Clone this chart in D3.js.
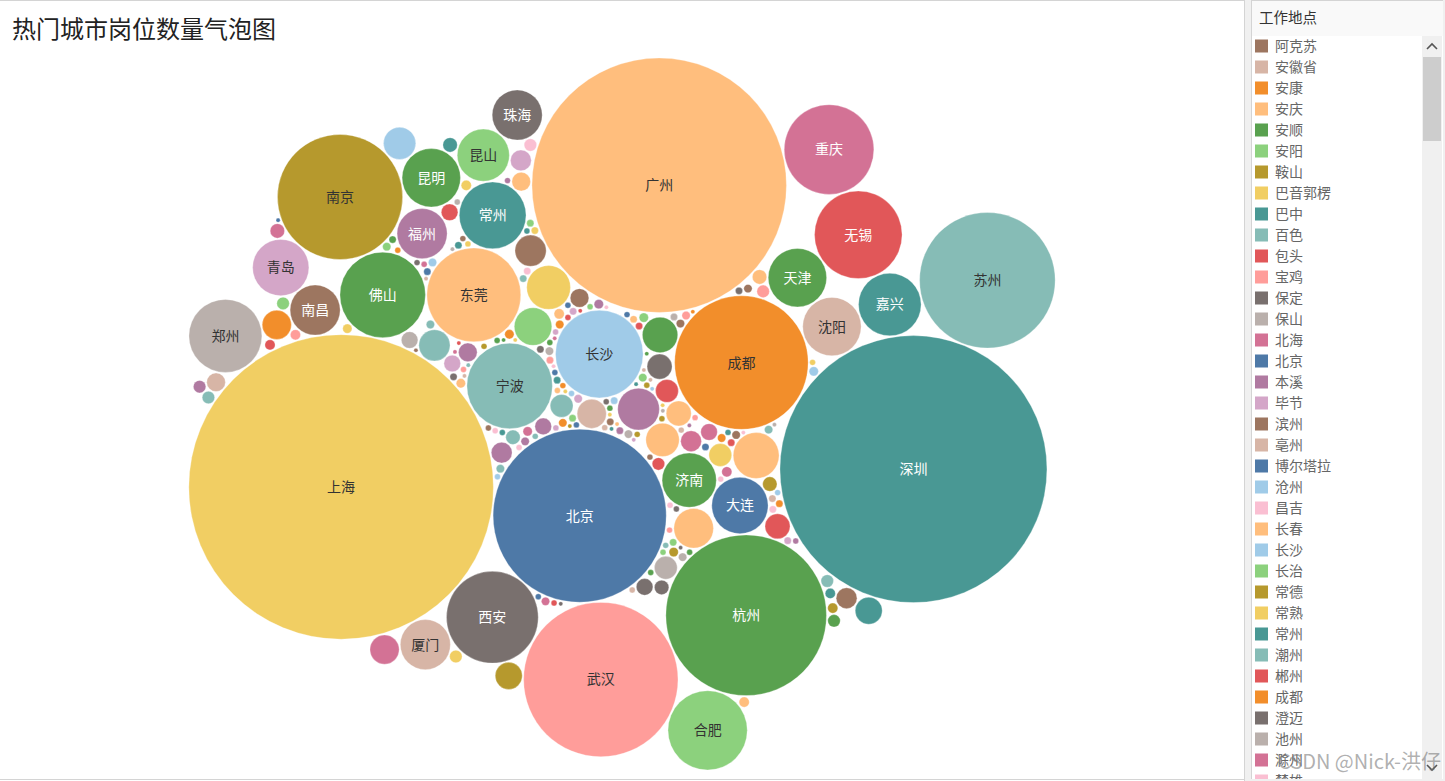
<!DOCTYPE html>
<html>
<head>
<meta charset="utf-8">
<script src="https://cdn.jsdelivr.net/npm/d3@7"></script>
<style>
  body { margin: 0; background: #fff; }
  svg { display: block; font-family: "Noto Sans CJK SC", "Noto Sans", sans-serif; }
</style>
</head>
<body>
<svg id="canvas"></svg>
<script>
const WIDTH = 1445;
const HEIGHT = 781;

// chart area for the bubbles
const PLOT = { x: 155, y: 58, w: 934, h: 712 };

const TITLE = "热门城市岗位数量气泡图";
const LEGEND_TITLE = "工作地点";

// job counts per city, listed in source order (10 per line)
const cities = [
  "温州", "达州", "大理", "绍兴", "大庆", "丹东", "德阳", "台州", "德州", "东营",
  "鄂尔多斯", "鄂州", "长沙", "恩施", "扬州", "防城港", "抚州", "阜阳", "广安", "洛阳",
  "广元", "贵港", "邯郸", "江门", "汉中", "衡水", "菏泽", "河源", "安庆", "鹤壁",
  "怀化", "淮安", "淮北", "南宁", "淮南", "黄冈", "黄山", "包头", "黄石", "吉安",
  "吉林", "佳木斯", "焦作", "宜昌", "揭阳", "锦州", "晋城", "晋中", "荆门", "荆州",
  "贵阳", "景德镇", "九江", "酒泉", "开封", "克拉玛依", "喀什", "芜湖", "拉萨", "乐山",
  "丽水", "连云港", "聊城", "六安", "襄阳", "龙岩", "娄底", "泸州", "漯河", "马鞍山",
  "茂名", "眉山", "南通", "梅州", "牡丹江", "南充", "南阳", "内江", "宁德", "盘锦",
  "攀枝花", "株洲", "平顶山", "莆田", "濮阳", "齐齐哈尔", "黔东南", "钦州", "秦皇岛", "清远",
  "衢州", "石家庄", "日照", "三明", "汕尾", "商丘", "上饶", "韶关", "邵阳", "十堰",
  "宿迁", "宿州", "随州", "临沂", "遂宁", "泰安", "铁岭", "铜陵", "渭南", "梧州",
  "太原", "武威", "咸宁", "咸阳", "湘潭", "济南", "新乡", "淄博", "大连", "邢台",
  "许昌", "北京", "延安", "阳江", "宜宾", "常州", "杭州", "鹰潭", "营口", "永州",
  "福州", "榆林", "玉林", "云浮", "运城", "佛山", "张家口", "舟山", "阿克苏", "安徽省",
  "惠州", "安康", "宣城", "安阳", "鞍山", "巴音郭楞", "巴中", "百色", "南昌", "保山",
  "北海", "本溪", "信阳", "盐城", "滨州", "合肥", "南京", "沧州", "昌吉", "长治",
  "益阳", "潮州", "郴州", "澄迈", "昆明", "滁州", "楚雄", "中山", "保定", "青岛",
  "常熟", "宁波", "昆山", "毕节", "烟台", "绵阳", "亳州", "枣庄", "嘉兴", "西安",
  "宜春", "泉州", "宝鸡", "成都", "赣州", "池州", "兰州", "东莞", "海口", "乌鲁木齐",
  "泰州", "孝感", "潍坊", "镇江", "湖州", "汕头", "天津", "安顺", "哈尔滨", "长春",
  "厦门", "呼和浩特", "银川", "唐山", "无锡", "西宁", "廊坊", "柳州", "威海", "湛江",
  "漳州", "博尔塔拉", "沈阳", "徐州", "肇庆", "常德", "济宁", "重庆", "武汉", "珠海",
  "深圳", "上海", "广州", "衡阳", "郑州", "苏州", "金华", "岳阳", "三亚", "桂林",
];

const counts = [
  100, 2, 3, 49, 2, 1, 4, 36, 2, 3,
  2, 1, 441, 1, 30, 1, 2, 3, 1, 25,
  1, 1, 4, 20, 2, 2, 3, 2, 6, 1,
  2, 5, 2, 110, 2, 2, 2, 9, 3, 2,
  4, 1, 2, 20, 3, 2, 1, 3, 2, 4,
  90, 2, 4, 1, 2, 1, 1, 30, 2, 2,
  4, 5, 3, 3, 16, 4, 1, 3, 2, 5,
  3, 2, 81, 2, 1, 3, 4, 1, 4, 1,
  1, 16, 2, 5, 1, 2, 1, 2, 4, 4,
  5, 72, 3, 2, 1, 2, 3, 3, 2, 3,
  4, 2, 1, 16, 2, 4, 1, 2, 2, 2,
  64, 1, 2, 5, 5, 169, 4, 16, 182, 3,
  3, 1722, 1, 2, 4, 256, 1482, 1, 2, 2,
  144, 3, 2, 1, 2, 420, 2, 3, 2, 3,
  56, 1, 2, 4, 12, 1, 2, 2, 144, 1,
  4, 2, 2, 16, 4, 361, 900, 5, 2, 3,
  2, 4, 3, 1, 196, 6, 1, 56, 16, 182,
  30, 420, 156, 3, 49, 12, 2, 3, 225, 484,
  3, 42, 6, 1024, 12, 2, 36, 506, 36, 30,
  12, 3, 25, 25, 25, 20, 196, 2, 60, 121,
  144, 20, 9, 9, 441, 9, 12, 9, 6, 9,
  12, 1, 196, 49, 9, 6, 9, 462, 1369, 144,
  4096, 5329, 3721, 6, 306, 1056, 42, 6, 6, 9,
];

// legend rows visible in the scroll list
const legendCities = [
  "阿克苏", "安徽省", "安康", "安庆", "安顺", "安阳", "鞍山", "巴音郭楞", "巴中", "百色",
  "包头", "宝鸡", "保定", "保山", "北海", "北京", "本溪", "毕节", "滨州", "亳州",
  "博尔塔拉", "沧州", "昌吉", "长春", "长沙", "长治", "常德", "常熟", "常州", "潮州",
  "郴州", "成都", "澄迈", "池州", "滁州", "楚雄",
];

// tableau 20
const palette = [
  "#4e79a7", "#a0cbe8", "#f28e2b", "#ffbe7d", "#59a14f", "#8cd17d", "#b6992d", "#f1ce63",
  "#499894", "#86bcb6", "#e15759", "#ff9d9a", "#79706e", "#bab0ac", "#d37295", "#fabfd2",
  "#b07aa1", "#d4a6c8", "#9d7660", "#d7b5a6",
];

// colours that tableau kept from earlier assignments
const colorOverrides = {
  阿克苏: "#9d7660", 安徽省: "#d7b5a6", 北京: "#4e79a7", 昌吉: "#fabfd2", 长沙: "#a0cbe8",
  成都: "#f28e2b", 上海: "#f1ce63", 深圳: "#499894", 广州: "#ffbe7d", 杭州: "#59a14f",
  武汉: "#ff9d9a", 苏州: "#86bcb6", 南京: "#b6992d", 东莞: "#ffbe7d", 西安: "#79706e",
  重庆: "#d37295", 无锡: "#e15759", 宁波: "#86bcb6", 佛山: "#59a14f", 合肥: "#8cd17d",
  郑州: "#bab0ac", 常州: "#499894", 嘉兴: "#499894", 沈阳: "#d7b5a6", 天津: "#59a14f",
  昆明: "#59a14f", 大连: "#4e79a7", 青岛: "#d4a6c8", 济南: "#59a14f", 昆山: "#8cd17d",
  福州: "#b07aa1", 南昌: "#9d7660", 珠海: "#79706e", 厦门: "#d7b5a6",
};

const svg = d3.select("#canvas").attr("width", WIDTH).attr("height", HEIGHT);

const colorScale = d3
  .scaleOrdinal()
  .domain(legendCities.concat(cities.filter((c) => !legendCities.includes(c))))
  .range(palette);
const colorOf = (name) => colorOverrides[name] || colorScale(name);

const rScale = d3.scaleSqrt().domain([0, d3.max(counts)]).range([0, 146]);

const nodes = cities.map((name, i) => ({ name, value: counts[i], r: rScale(counts[i]) }));

// start from a wide phyllotaxis spiral and let it contract
const GOLDEN = Math.PI * (3 - Math.sqrt(5));
nodes.forEach((d, i) => {
  const rad = 22 * Math.sqrt(i + 0.5);
  d.x = rad * Math.cos(i * GOLDEN);
  d.y = rad * Math.sin(i * GOLDEN);
});

const sim = d3
  .forceSimulation(nodes)
  .alphaDecay(0.008)
  .force("x", d3.forceX(0).strength(0.03))
  .force("y", d3.forceY(0).strength(0.058))
  .force("collide", d3.forceCollide((d) => d.r + 0.7).strength(1).iterations(6))
  .stop();
for (let i = 0; i < 1100; ++i) sim.tick();

const x0 = d3.min(nodes, (d) => d.x - d.r);
const x1 = d3.max(nodes, (d) => d.x + d.r);
const y0 = d3.min(nodes, (d) => d.y - d.r);
const y1 = d3.max(nodes, (d) => d.y + d.r);
const k = Math.min(PLOT.w / (x1 - x0), PLOT.h / (y1 - y0));
const cx = (x0 + x1) / 2;
const cy = (y0 + y1) / 2;

const xScale = d3
  .scaleLinear()
  .domain([cx - PLOT.w / 2 / k, cx + PLOT.w / 2 / k])
  .range([PLOT.x, PLOT.x + PLOT.w]);
const yScale = d3
  .scaleLinear()
  .domain([cy - PLOT.h / 2 / k, cy + PLOT.h / 2 / k])
  .range([PLOT.y, PLOT.y + PLOT.h]);

// frame
svg.append("rect").attr("x", 0).attr("y", 0).attr("width", WIDTH).attr("height", HEIGHT).attr("fill", "#fff");
svg.append("line").attr("x1", 0).attr("x2", 1245).attr("y1", 0.5).attr("y2", 0.5).attr("stroke", "#d4d4d4");
svg.append("line").attr("x1", 0).attr("x2", 1245).attr("y1", 779.5).attr("y2", 779.5).attr("stroke", "#d4d4d4");
svg.append("rect").attr("x", 1244).attr("y", 0).attr("width", 8).attr("height", HEIGHT).attr("fill", "#f0f0f0");
svg.append("line").attr("x1", 1244.5).attr("x2", 1244.5).attr("y1", 0).attr("y2", HEIGHT).attr("stroke", "#d4d4d4");

svg
  .append("text")
  .attr("x", 12)
  .attr("y", 38)
  .attr("font-size", 24)
  .attr("fill", "#222")
  .text(TITLE);

const bubbles = svg
  .append("g")
  .selectAll("g")
  .data(nodes)
  .enter()
  .append("g")
  .attr("transform", (d) => "translate(" + xScale(d.x) + "," + yScale(d.y) + ")");

bubbles
  .append("circle")
  .attr("r", (d) => d.r * k)
  .attr("fill", (d) => colorOf(d.name))
  .attr("stroke", "#fff")
  .attr("stroke-opacity", 0.5)
  .attr("stroke-width", 0.6);

bubbles
  .filter((d) => d.r * k >= 23)
  .append("text")
  .attr("text-anchor", "middle")
  .attr("dy", "0.35em")
  .attr("font-size", 14)
  .attr("fill", (d) => (d3.lab(colorOf(d.name)).l > 62 ? "#333" : "#fff"))
  .text((d) => d.name);

// legend panel
const legend = svg.append("g").attr("transform", "translate(1251, 0)");
legend.append("rect").attr("x", 0.5).attr("y", 0.5).attr("width", 192).attr("height", 779).attr("fill", "#f9f9f9").attr("stroke", "#d4d4d4");
legend.append("rect").attr("x", 1).attr("y", 36).attr("width", 191).attr("height", 743).attr("fill", "#fff");
legend
  .append("text")
  .attr("x", 8)
  .attr("y", 18)
  .attr("dy", "0.35em")
  .attr("font-size", 14.5)
  .attr("fill", "#333")
  .text(LEGEND_TITLE);

const rows = legend
  .selectAll(".legend-row")
  .data(legendCities)
  .enter()
  .append("g")
  .attr("class", "legend-row")
  .attr("transform", (d, i) => "translate(0," + (46 + 21 * i) + ")");
rows.append("rect").attr("x", 4).attr("y", -6.5).attr("width", 13).attr("height", 13).attr("fill", (d) => colorOf(d));
rows
  .append("text")
  .attr("x", 24)
  .attr("dy", "0.35em")
  .attr("font-size", 14)
  .attr("fill", "#666")
  .text((d) => d);

// clip rows below the panel edge
legend.append("rect").attr("x", 0).attr("y", 779).attr("width", 194).attr("height", 2).attr("fill", "#f0f0f0");

// scrollbar
legend.append("rect").attr("x", 171).attr("y", 36).attr("width", 20).attr("height", 743).attr("fill", "#f0f0f0");
legend.append("rect").attr("x", 172).attr("y", 57).attr("width", 18).attr("height", 84).attr("fill", "#cdcdcd");
legend.append("path").attr("d", "M176,49 L181,44 L186,49").attr("fill", "none").attr("stroke", "#555").attr("stroke-width", 1.6);
legend.append("path").attr("d", "M176,765 L181,770 L186,765").attr("fill", "none").attr("stroke", "#555").attr("stroke-width", 1.6);
svg.append("rect").attr("x", 1443).attr("y", 0).attr("width", 2).attr("height", HEIGHT).attr("fill", "#f0f0f0");

// watermark
svg
  .append("text")
  .attr("x", 1278)
  .attr("y", 769)
  .attr("font-size", 20)
  .attr("fill", "rgba(110,110,110,0.55)")
  .text("CSDN @Nick-洪仔");
</script>
</body>
</html>
